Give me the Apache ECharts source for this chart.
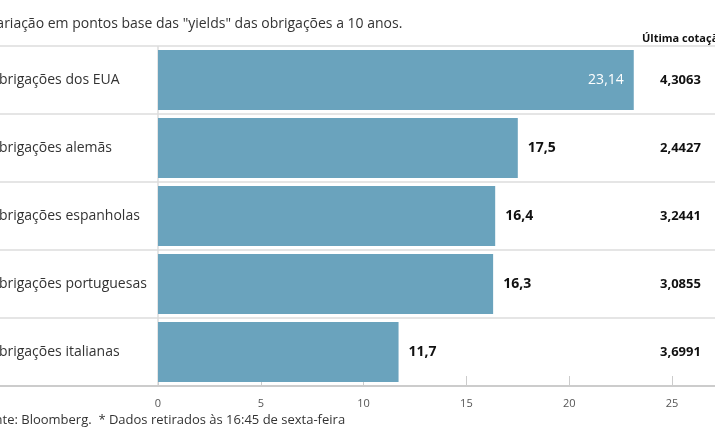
<!DOCTYPE html>
<html>
<head>
<meta charset="utf-8" />
<script src="https://cdn.jsdelivr.net/npm/echarts@6/dist/echarts.min.js"></script>
<style>body{margin:0}#main{width:715px;height:445px}</style>
</head>
<body>
<div id="main"></div>
<script type="text/javascript">
var categorias = ['Obrigações dos EUA', 'Obrigações alemãs', 'Obrigações espanholas', 'Obrigações portuguesas', 'Obrigações italianas'];
var variacao = [23.14, 17.5, 16.4, 16.3, 11.7];
var cotacao = ['4,3063', '2,4427', '3,2441', '3,0855', '3,6991'];
var ticks = [0, 5, 10, 15, 20, 25];

var myChart = echarts.init(document.getElementById('main'));
var font = '"Open Sans", sans-serif';
// separadores das linhas
var lines = [];
for (var i = 0; i <= 4; i++) {
	var y = 46 + i * 68;
	lines.push({type: 'line', shape: {x1: 0, y1: y, x2: 715, y2: y}, style: {stroke: '#dddddd', lineWidth: 1.5}, z: 0});
}
var option = {
	animation: false,
	textStyle: {fontFamily: font},
	grid: {left: 158, right: 43, top: 46, bottom: 59, outerBoundsMode: 'none', containLabel: false},
	graphic: lines.concat([
		{type: 'line', shape: {x1: 158, y1: 46, x2: 158, y2: 386}, style: {stroke: '#dddddd', lineWidth: 1.5}},
		{type: 'text', left: -12, top: 17, style: {text: 'Variação em pontos base das "yields" das obrigações a 10 anos.', font: '14px ' + font, fill: '#333'}},
		{type: 'text', left: 642, top: 33, style: {text: 'Última cotação*', font: 'bold 11px ' + font, fill: '#111'}},
		{type: 'text', left: -20, top: 414, style: {text: 'Fonte: Bloomberg.  * Dados retirados às 16:45 de sexta-feira', font: '13px ' + font, fill: '#333'}},
		{type: 'line', shape: {x1: 0, y1: 386, x2: 715, y2: 386}, style: {stroke: '#cccccc', lineWidth: 2}}
	]),
	xAxis: {
		type: 'value', min: 0, max: 25, interval: 5,
		axisLine: {show: false},
		axisTick: {show: true, inside: true, length: 10, lineStyle: {color: '#ccc'}},
		splitLine: {show: false},
		axisLabel: {color: '#555', fontSize: 11, margin: 12,
			formatter: function (v) { return ticks.indexOf(v) >= 0 ? String(v) : ''; }}
	},
	yAxis: [{
		type: 'category', inverse: true, data: categorias,
		axisLine: {show: false}, axisTick: {show: false},
		axisLabel: {align: 'left', margin: 170, color: '#333', fontSize: 14}
	}, {
		type: 'category', inverse: true, data: cotacao, position: 'right',
		axisLine: {show: false}, axisTick: {show: false},
		axisLabel: {align: 'left', margin: -12, color: '#111', fontSize: 13, fontWeight: 'bold'}
	}],
	series: [{
		type: 'bar', data: variacao.map(function (v, i) {
			return {value: v, label: i === 0 ? {position: 'insideRight', color: '#fff', fontWeight: 'normal'} : {}};
		}),
		barWidth: 60,
		itemStyle: {color: '#6aa3bd'},
		label: {show: true, position: 'right', distance: 10, color: '#111', fontSize: 14, fontWeight: 'bold',
			formatter: function (p) { return String(p.value).replace('.', ','); }}
	}]
};
myChart.setOption(option);
</script>
</body>
</html>
